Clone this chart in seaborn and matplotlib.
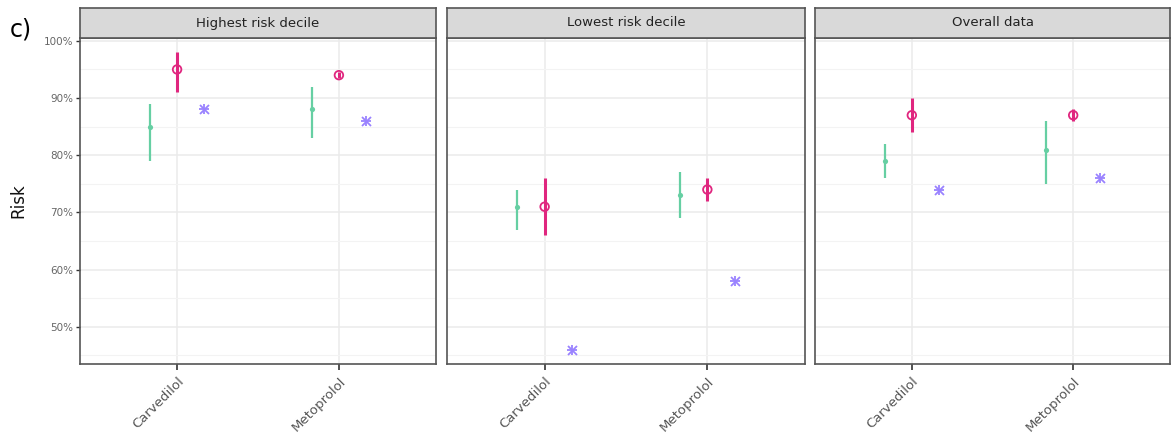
import matplotlib
matplotlib.use("Agg")
import matplotlib.pyplot as plt
import seaborn as sns
import numpy as np
import pandas as pd
from matplotlib.ticker import FuncFormatter, MultipleLocator

# ---- data ----
panels = ["Highest risk decile", "Lowest risk decile", "Overall data"]
drugs = ["Carvedilol", "Metoprolol"]

# green series (mean, low, high) per panel per drug
green_mid = [[85, 88], [71, 73], [79, 81]]
green_lo = [[79, 83], [67, 69], [76, 75]]
green_hi = [[89, 92], [74, 77], [82, 86]]
# pink series
pink_mid = [[95, 94], [71, 74], [87, 87]]
pink_lo = [[91, 93.5], [66, 72], [84, 86]]
pink_hi = [[98, 94.5], [76, 76], [90, 88]]
# blue series (point only)
blue_mid = [[88, 86], [46, 58], [74, 76]]

yticks = [50, 60, 70, 80, 90, 100]

rows = []
for pi, p in enumerate(panels):
    for di, d in enumerate(drugs):
        rows.append(dict(panel=p, drug=d, series="green", mid=green_mid[pi][di], lo=green_lo[pi][di], hi=green_hi[pi][di]))
        rows.append(dict(panel=p, drug=d, series="pink", mid=pink_mid[pi][di], lo=pink_lo[pi][di], hi=pink_hi[pi][di]))
        rows.append(dict(panel=p, drug=d, series="blue", mid=blue_mid[pi][di], lo=np.nan, hi=np.nan))
df = pd.DataFrame(rows)

colors = {"green": "#66cfa3", "pink": "#e0267f", "blue": "#9a82ff"}
offsets = {"green": -0.167, "pink": 0.0, "blue": 0.167}

sns.set_theme(style="white")
plt.rcParams['font.family'] = ['DejaVu Sans']

W, H = 1172, 446
fig = plt.figure(figsize=(W / 100, H / 100), dpi=100)

def box(x0, y0, x1, y1):
    return [x0 / W, 1 - y1 / H, (x1 - x0) / W, (y1 - y0) / H]

panel_px = [(80, 436), (447, 805), (815, 1170)]
ytop, ybot, stop = 38, 364, 8

for pi, (p, (x0, x1)) in enumerate(zip(panels, panel_px)):
    ax = fig.add_axes(box(x0, ytop, x1, ybot))
    sub = df[df.panel == p].copy()
    sub["x"] = sub.drug.map({d: i for i, d in enumerate(drugs)}) + sub.series.map(offsets)
    ax.set_xlim(-0.6, 1.6)
    ax.set_ylim(43.5, 100.5)
    ax.yaxis.set_major_locator(MultipleLocator(10))
    ax.yaxis.set_minor_locator(MultipleLocator(5))
    ax.grid(which="major", color="#ebebeb", lw=1.1)
    ax.grid(which="minor", axis="y", color="#f3f3f3", lw=0.8)
    ax.set_axisbelow(True)
    # error bars
    for s, lw in [("green", 1.6), ("pink", 2.2)]:
        ss = sub[sub.series == s]
        ax.vlines(ss.x, ss.lo, ss.hi, color=colors[s], lw=lw, zorder=2)
    g = sub[sub.series == "green"]
    sns.scatterplot(x=g.x, y=g.mid, ax=ax, color=colors["green"], s=14, marker="o", linewidth=0, zorder=3, legend=False)
    pk = sub[sub.series == "pink"]
    ax.scatter(pk.x, pk.mid, s=38, facecolors="none", edgecolors=colors["pink"], linewidths=1.3, zorder=3)
    b = sub[sub.series == "blue"]
    for mk in ["+", "x"]:
        sns.scatterplot(x=b.x, y=b.mid, ax=ax, color=colors["blue"], s=42, marker=mk, linewidth=1.3, zorder=3, legend=False)
    ax.set_xticks(range(len(drugs)))
    ax.set_xticklabels(drugs, rotation=45, ha="right", rotation_mode="anchor", fontsize=9.5, color="#555555")
    ax.set_xlabel("")
    ax.set_ylabel("")
    ax.tick_params(axis="x", length=4, width=1.2, color="#333333", pad=4, bottom=True)
    if pi == 0:
        ax.set_yticks(yticks)
        ax.yaxis.set_major_formatter(FuncFormatter(lambda v, _: f"{int(v)}%"))
        ax.tick_params(axis="y", length=3, width=1, color="#333333", labelsize=7.5, labelcolor="#666666", pad=2, left=True)
        ax.set_ylabel("Risk", fontsize=12, color="#111111", labelpad=12)
    else:
        ax.tick_params(axis="y", left=False, labelleft=False)
    for sp in ax.spines.values():
        sp.set_color("#555555")
        sp.set_linewidth(1.2)
    # strip
    sax = fig.add_axes(box(x0, stop, x1, ytop))
    sax.set_facecolor("#d9d9d9")
    sax.set_xticks([]); sax.set_yticks([])
    for sp in sax.spines.values():
        sp.set_color("#555555")
        sp.set_linewidth(1.2)
    sax.text(0.5, 0.5, p, ha="center", va="center", fontsize=9.5, color="#222222", transform=sax.transAxes)

fig.text(10 / W, 1 - 30 / H, "c)", fontsize=17, color="black", va="center", ha="left")

fig.savefig("out.png", dpi=100, facecolor="white")
